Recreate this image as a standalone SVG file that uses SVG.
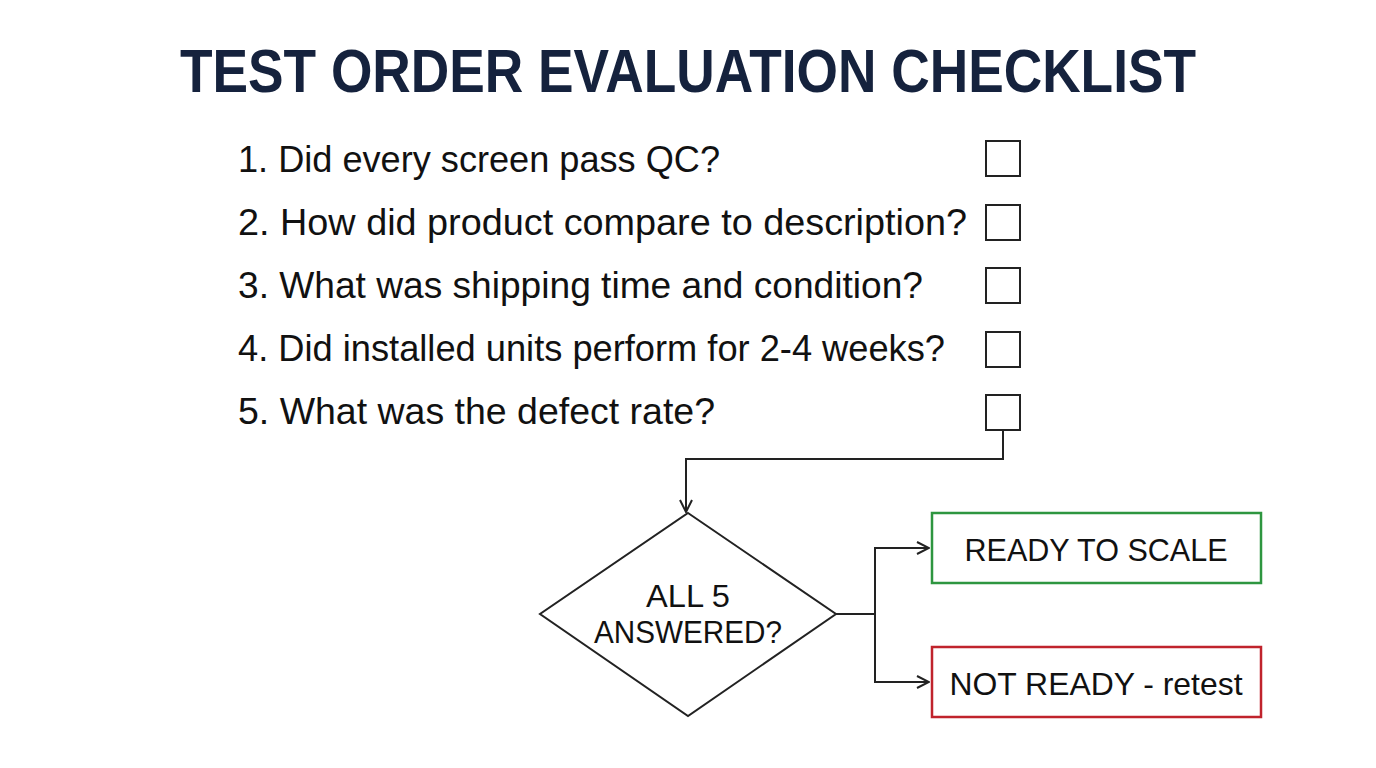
<svg xmlns="http://www.w3.org/2000/svg" width="1376" height="768" viewBox="0 0 1376 768">
<style>
.t{font-family:"Liberation Sans","DejaVu Sans",sans-serif;fill:#111;}
.title{font-family:"Liberation Sans","DejaVu Sans",sans-serif;font-weight:bold;fill:#15223d;font-size:62px;}
.item{font-size:36px;}
.box{fill:#fff;stroke:#222;stroke-width:2;}
.line{fill:none;stroke:#222;stroke-width:2;}
</style>
<defs>
<marker id="arr" viewBox="0 0 14 14" refX="13" refY="7" markerWidth="14" markerHeight="14" markerUnits="userSpaceOnUse" orient="auto">
<path d="M1,1 L13,7 L1,13" fill="none" stroke="#222" stroke-width="2"/>
</marker>
</defs>
<rect width="1376" height="768" fill="#fff"/>
<g id="title"><text class="title" x="180" y="92" textLength="1016" lengthAdjust="spacingAndGlyphs">TEST ORDER EVALUATION CHECKLIST</text></g>
<g id="item1"><text class="t item" x="238" y="172" textLength="482" lengthAdjust="spacingAndGlyphs">1. Did every screen pass QC?</text><rect class="box" x="986" y="141" width="34" height="35"/></g>
<g id="item2"><text class="t item" x="238" y="235" textLength="729" lengthAdjust="spacingAndGlyphs">2. How did product compare to description?</text><rect class="box" x="986" y="205" width="34" height="35"/></g>
<g id="item3"><text class="t item" x="238" y="298" textLength="685" lengthAdjust="spacingAndGlyphs">3. What was shipping time and condition?</text><rect class="box" x="986" y="268" width="34" height="35"/></g>
<g id="item4"><text class="t item" x="238" y="361" textLength="707" lengthAdjust="spacingAndGlyphs">4. Did installed units perform for 2-4 weeks?</text><rect class="box" x="986" y="332" width="34" height="35"/></g>
<g id="item5"><text class="t item" x="238" y="424" textLength="477" lengthAdjust="spacingAndGlyphs">5. What was the defect rate?</text><rect class="box" x="986" y="395" width="34" height="35"/></g>
<g id="decision">
<polygon points="688,513 836,614 688,716 540,614" fill="#fff" stroke="#222" stroke-width="2"/>
<text class="t" x="688" y="607" font-size="31" text-anchor="middle" textLength="84" lengthAdjust="spacingAndGlyphs">ALL 5</text>
<text class="t" x="688" y="643" font-size="31" text-anchor="middle" textLength="188" lengthAdjust="spacingAndGlyphs">ANSWERED?</text>
</g>
<g id="ready">
<rect x="932" y="513" width="329" height="70" fill="#fff" stroke="#2e9640" stroke-width="2.5"/>
<text class="t" x="1096" y="561" font-size="32" text-anchor="middle" textLength="263" lengthAdjust="spacingAndGlyphs">READY TO SCALE</text>
</g>
<g id="notready">
<rect x="932" y="647" width="329" height="70" fill="#fff" stroke="#c0232c" stroke-width="2.5"/>
<text class="t" x="1096" y="695" font-size="32" text-anchor="middle" textLength="293" lengthAdjust="spacingAndGlyphs">NOT READY - retest</text>
</g>
<g id="connectors">
<path class="line" d="M1003,430 V459 H686 V512" marker-end="url(#arr)"/>
<path class="line" d="M836,614 H875"/>
<path class="line" d="M875,614 V548 H929" marker-end="url(#arr)"/>
<path class="line" d="M875,614 V682 H929" marker-end="url(#arr)"/>
</g>
</svg>
